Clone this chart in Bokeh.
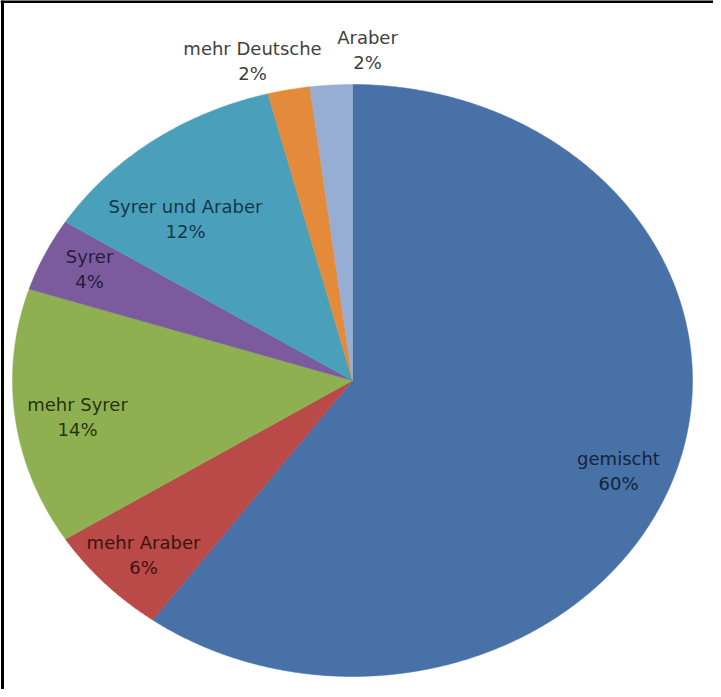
import numpy as np
from bokeh.plotting import figure
from bokeh.models import Range1d, ColumnDataSource, Span
from bokeh.core.properties import value
from bokeh.embed import file_html
from bokeh.resources import INLINE

# ---- data ----
categories = ["gemischt", "mehr Araber", "mehr Syrer", "Syrer",
              "Syrer und Araber", "mehr Deutsche", "Araber"]
shares = [60, 6, 14, 4, 12, 2, 2]
pct_labels = ["60%", "6%", "14%", "4%", "12%", "2%", "2%"]

# ---- styles ----
colors = ["#4771A7", "#B94A47", "#8FB051", "#7B5B9E", "#4AA0BA", "#E38A3B", "#97AED4"]
text_colors = ["#15233A", "#3E1211", "#27330F", "#2A1B3C", "#12384A", "#404040", "#404040"]
# label line centres (page px relative to figure origin)
label_pos = [(618, 458), (143, 542), (77, 404), (89, 256), (185, 206), (252, 48), (367, 37)]
line_gap = 25

W, H = 713, 689
cx, cy = 352, 380      # pie centre
rx, ry = 340, 296      # pie radii (chart is horizontally stretched)

p = figure(width=W, height=H, output_backend="svg", toolbar_location=None,
           x_range=Range1d(0, W), y_range=Range1d(H, 0),
           min_border=0, outline_line_color=None)
p.axis.visible = False
p.grid.visible = False
p.background_fill_color = "white"

# slices: start at 12 o'clock, go clockwise
vals = np.array(shares, dtype=float)
cum = np.concatenate([[0], np.cumsum(vals)]) / vals.sum() * 2 * np.pi
xs, ys = [], []
for a0, a1 in zip(cum[:-1], cum[1:]):
    t = np.linspace(a0, a1, max(int((a1 - a0) / 0.005), 4))
    xs.append(np.concatenate([[cx], cx + rx * np.sin(t)]).tolist())
    ys.append(np.concatenate([[cy], cy - ry * np.cos(t)]).tolist())
src = ColumnDataSource(dict(xs=xs, ys=ys, color=colors, cat=categories))
p.patches("xs", "ys", fill_color="color", line_color="color", line_width=0.5, source=src)

# labels
lx = [q[0] for q in label_pos]
ly1 = [q[1] for q in label_pos]
ly2 = [q[1] + line_gap for q in label_pos]
lsrc = ColumnDataSource(dict(x=lx, y1=ly1, y2=ly2, name=categories, pct=pct_labels, tc=text_colors))
for ycol, tcol in (("y1", "name"), ("y2", "pct")):
    p.text(x="x", y=ycol, text=tcol, source=lsrc, text_color="tc",
           text_font=value("DejaVu Sans"), text_font_size="18px",
           text_align="center", text_baseline="middle")

# frame lines (top and left only visible in the reference)
p.add_layout(Span(location=1, dimension="width", line_color="black", line_width=3))
p.add_layout(Span(location=2, dimension="height", line_color="black", line_width=3))

open("out.html", "w").write(file_html(p, INLINE))
